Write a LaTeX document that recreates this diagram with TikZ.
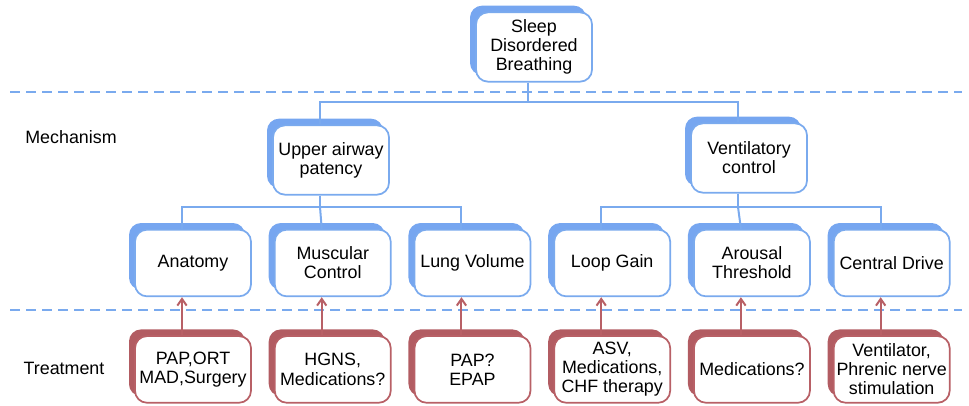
\documentclass[tikz,border=0pt]{standalone}
\usepackage{fontspec}
\setmainfont{Liberation Sans}
\usetikzlibrary{arrows.meta, positioning, shadows}
\definecolor{mechblue}{RGB}{122,170,238}
\definecolor{mechshade}{RGB}{118,166,240}
\definecolor{treatred}{RGB}{184,96,102}
\definecolor{treatshade}{RGB}{178,92,98}

\begin{document}
\begin{tikzpicture}[x=0.75pt, y=-0.75pt, >={Straight Barb[length=5pt, width=7pt]},
  node distance=28.5pt and 16.5pt, font=\fontsize{13.4}{14.4}\selectfont,
  base/.style={draw, rounded corners=9pt, align=center, fill=white, line width=1.3pt,
    minimum width=87pt, minimum height=50pt, inner sep=2pt, text=black},
  mech/.style={base, draw=mechblue, general shadow={fill=mechshade, rounded corners=9pt,
    shadow xshift=-4.5pt, shadow yshift=5pt}},
  treat/.style={base, draw=treatred, general shadow={fill=treatshade, rounded corners=9pt,
    shadow xshift=-4.5pt, shadow yshift=5pt}},
  tree/.style={draw=mechblue, line width=1.5pt},
  cure/.style={->, draw=treatred, line width=1.5pt},
  divider/.style={draw=mechblue, line width=1.5pt, dash pattern=on 7.5pt off 4.5pt}]
\useasboundingbox (0,0) rectangle (969,405);

% section dividers
\coordinate (d1w) at (10,92);
\coordinate (d1e) at (962,92);
\coordinate (d2w) at (10,310);
\coordinate (d2e) at (962,310);
\draw[divider] (d1w) -- (d1e);
\draw[divider] (d2w) -- (d2e);

\node (mechlab) at (71,137) {Mechanism};
\node (treatlab) at (64,368) {Treatment};

% mechanisms
\node[mech, minimum height=52pt] (sdb) at (534,47) {Sleep\\Disordered\\Breathing};
\node[mech, minimum height=52pt] (upper) at (331,160) {Upper airway\\patency};
\node[mech, minimum height=52pt] (vent) at (749,158) {Ventilatory\\control};

\node[mech] (anat) at (193,263) {Anatomy};
\node[mech, right=of anat] (musc) {Muscular\\Control};
\node[mech, right=of musc] (lung) {Lung Volume};
\node[mech, right=of lung] (loop) {Loop Gain};
\node[mech, right=of loop] (arousal) {Arousal\\Threshold};
\node[mech, right=of arousal] (drive) {Central Drive};

% treatments
\node[treat, below=of anat] (pap) {PAP,ORT\\MAD,Surgery};
\node[treat, below=of musc] (hgns) {HGNS,\\Medications?};
\node[treat, below=of lung] (epap) {PAP?\\EPAP};
\node[treat, below=of loop] (asv) {ASV,\\Medications,\\CHF therapy};
\node[treat, below=of arousal] (meds) {Medications?};
\node[treat, below=of drive] (stim) {Ventilator,\\Phrenic nerve\\stimulation};

% tree
\coordinate (fork0) at (528,102);
\coordinate (fork1) at (320,207);
\coordinate (fork2) at (738,207);
\draw[tree] ([xshift=-4.5pt]sdb.south) -- (fork0);
\draw[tree] ([xshift=-8.25pt]upper.north) |- (fork0) -| ([xshift=-8.25pt]vent.north);
\draw[tree] ([xshift=-8.25pt]upper.south) -- (fork1);
\draw[tree] ([xshift=-8.25pt]anat.north) |- (fork1) -| ([xshift=-8.25pt]lung.north);
\draw[tree] (fork1) -- ([xshift=-8.25pt]musc.north);
\draw[tree] ([xshift=-8.25pt]vent.south) -- (fork2);
\draw[tree] ([xshift=-8.25pt]loop.north) |- (fork2) -| ([xshift=-8.25pt]drive.north);
\draw[tree] (fork2) -- ([xshift=-8.25pt]arousal.north);

% treatment arrows
\foreach \t/\m in {pap/anat, hgns/musc, epap/lung, asv/loop, meds/arousal, stim/drive}
  \draw[cure] ([xshift=-8.25pt]\t.north) -- ([xshift=-8.25pt]\m.south);
\end{tikzpicture}
\end{document}
